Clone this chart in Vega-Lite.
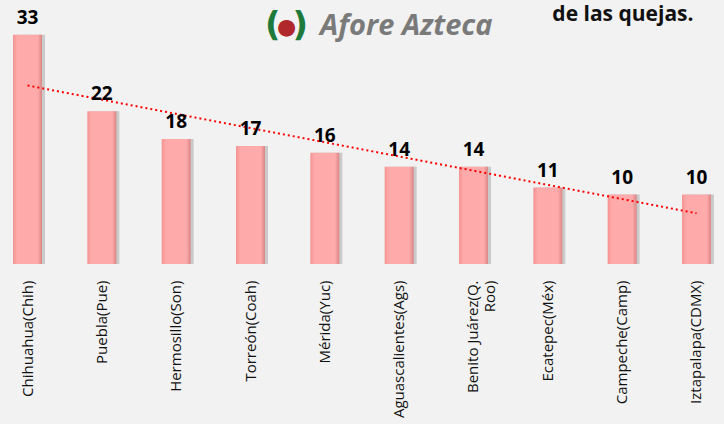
{
  "$schema": "https://vega.github.io/schema/vega-lite/v6.json",
  "width": 724,
  "height": 264,
  "autosize": "none",
  "padding": {"left": 0, "right": 0, "top": 0, "bottom": 160},
  "background": "#f2f2f2",
  "title": {
    "text": "Afore Azteca",
    "anchor": "start",
    "orient": "top",
    "offset": -64,
    "dx": 320,
    "font": "Open Sans",
    "fontSize": 29,
    "fontStyle": "italic",
    "fontWeight": "bold",
    "color": "#7a7a7a",
    "baseline": "alphabetic"
  },
  "config": {
    "view": {"stroke": null},
    "font": "Open Sans"
  },
  "resolve": {"axis": {"x": "independent", "y": "independent"}},
  "datasets": {
    "bars": [
      {"ciudad": "Chihuahua(Chih)", "quejas": 33},
      {"ciudad": "Puebla(Pue)", "quejas": 22},
      {"ciudad": "Hermosillo(Son)", "quejas": 18},
      {"ciudad": "Torreón(Coah)", "quejas": 17},
      {"ciudad": "Mérida(Yuc)", "quejas": 16},
      {"ciudad": "Aguascalientes(Ags)", "quejas": 14},
      {"ciudad": "Benito Juárez(Q. Roo)", "quejas": 14},
      {"ciudad": "Ecatepec(Méx)", "quejas": 11},
      {"ciudad": "Campeche(Camp)", "quejas": 10},
      {"ciudad": "Iztapalapa(CDMX)", "quejas": 10}
    ],
    "trend": [
      {"ciudad": "Chihuahua(Chih)", "tendencia": 25.7},
      {"ciudad": "Iztapalapa(CDMX)", "tendencia": 7.3}
    ]
  },
  "layer": [
    {
      "data": {"name": "bars"},
      "mark": {
        "type": "bar",
        "xOffset": 3,
        "color": "#9a9a9a",
        "opacity": 0.45
      },
      "encoding": {
        "x": {
          "field": "ciudad",
          "type": "nominal",
          "sort": null,
          "scale": {"paddingInner": 0.61, "paddingOuter": 0.175},
          "axis": {
            "title": null,
            "domain": false,
            "ticks": false,
            "labelAngle": -90,
            "labelAlign": "right",
            "labelBaseline": "middle",
            "labelPadding": 16,
            "labelFont": "Open Sans",
            "labelFontSize": 15,
            "labelColor": "#111111",
            "labelLimit": 200,
            "labelLineHeight": 17,
            "labelExpr": "datum.label == 'Benito Juárez(Q. Roo)' ? ['Benito Juárez(Q.', 'Roo)'] : datum.label"
          }
        },
        "y": {
          "field": "quejas",
          "type": "quantitative",
          "scale": {"domain": [0, 38], "nice": false},
          "axis": {
            "orient": "right",
            "title": "de las quejas.",
            "titleAngle": 0,
            "titleAlign": "right",
            "titleBaseline": "middle",
            "titleX": -31,
            "titleY": 14,
            "titleFont": "Open Sans",
            "titleFontSize": 21,
            "titleFontWeight": "bold",
            "titleColor": "#111111",
            "labels": false,
            "ticks": false,
            "domain": false,
            "grid": false
          }
        }
      }
    },
    {
      "data": {"name": "bars"},
      "mark": {
        "type": "bar",
        "color": {
          "x1": 0, "y1": 0, "x2": 1, "y2": 0,
          "gradient": "linear",
          "stops": [
            {"offset": 0, "color": "#f49393"},
            {"offset": 0.15, "color": "#ffaaaa"},
            {"offset": 0.85, "color": "#ffabab"},
            {"offset": 1, "color": "#d98585"}
          ]
        }
      },
      "encoding": {
        "x": {"field": "ciudad", "type": "nominal", "sort": null, "axis": null},
        "y": {"field": "quejas", "type": "quantitative", "axis": null}
      }
    },
    {
      "data": {"name": "trend"},
      "mark": {
        "type": "line",
        "color": "#ff0000",
        "strokeWidth": 2,
        "strokeDash": [2, 3]
      },
      "encoding": {
        "x": {
          "field": "ciudad",
          "type": "nominal",
          "sort": null,
          "axis": {
            "orient": "top",
            "title": "●",
            "titleFont": "DejaVu Sans",
            "titleFontSize": 22,
            "titleColor": "#b0282c",
            "titleAngle": 0,
            "titleAlign": "center",
            "titleBaseline": "middle",
            "titleX": 286,
            "titleY": 26,
            "labels": false,
            "ticks": false,
            "domain": false,
            "grid": false
          }
        },
        "y": {
          "field": "tendencia",
          "type": "quantitative",
          "axis": {
            "orient": "left",
            "title": "(   )",
            "titleFont": "DejaVu Sans",
            "titleFontSize": 34,
            "titleFontWeight": "bold",
            "titleColor": "#1e7a3a",
            "titleAngle": 0,
            "titleAlign": "center",
            "titleBaseline": "middle",
            "titleX": 286,
            "titleY": 25,
            "labels": false,
            "ticks": false,
            "domain": false,
            "grid": false
          }
        }
      }
    },
    {
      "data": {"name": "bars"},
      "mark": {
        "type": "text",
        "baseline": "alphabetic",
        "dy": -11,
        "font": "Open Sans",
        "fontSize": 19,
        "fontWeight": "bold",
        "color": "#000000"
      },
      "encoding": {
        "x": {"field": "ciudad", "type": "nominal", "sort": null, "axis": null},
        "y": {"field": "quejas", "type": "quantitative", "axis": null},
        "text": {"field": "quejas", "type": "quantitative"}
      }
    }
  ]
}
